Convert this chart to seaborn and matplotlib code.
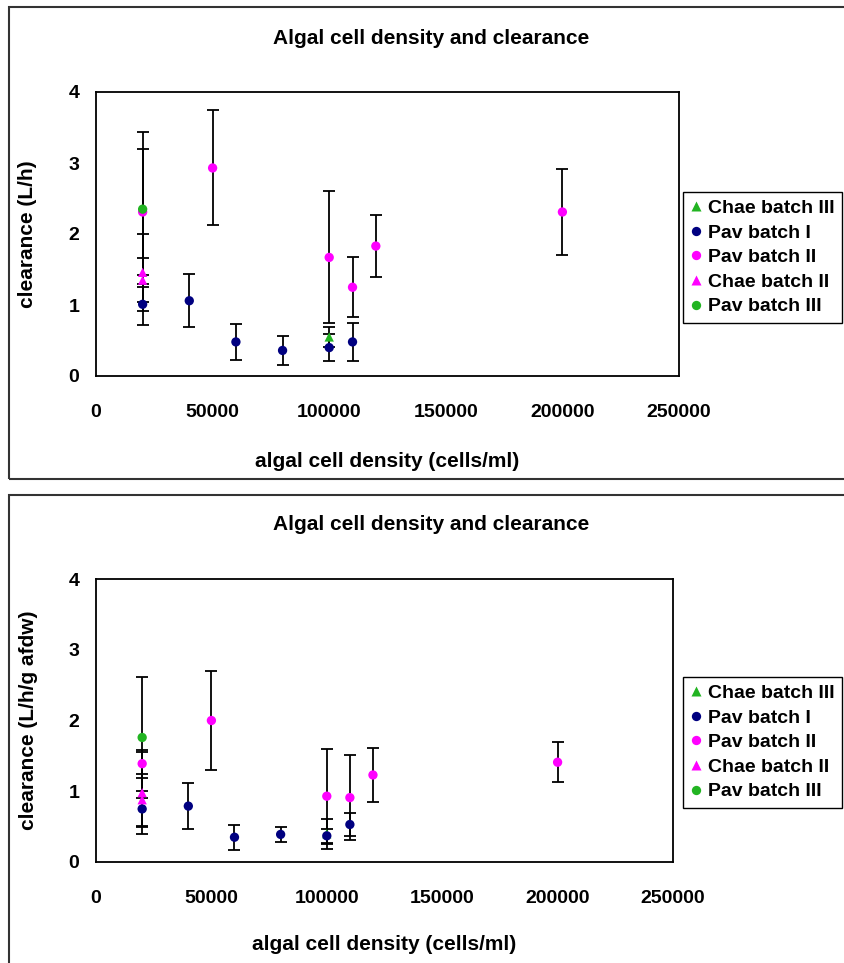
import pandas as pd
import numpy as np
import seaborn as sns
import matplotlib.pyplot as plt
from matplotlib.patches import Rectangle

# cell densities (cells/ml) for each series
pav1_x = [20000, 40000, 60000, 80000, 100000, 110000]
pav2_x = [20000, 50000, 100000, 110000, 120000, 200000]
pav3_x = [20000]
chae2_x = [20000, 20000]
chae3_x = [100000]

# top panel: clearance (L/h) and error
pav1_top = [1.01, 1.06, 0.48, 0.36, 0.40, 0.48]
pav1_top_err = [0.29, 0.37, 0.25, 0.21, 0.19, 0.27]
pav2_top = [2.31, 2.93, 1.67, 1.25, 1.83, 2.31]
pav2_top_err = [0.89, 0.81, 0.93, 0.42, 0.44, 0.60]
pav3_top = [2.35]
pav3_top_err = [1.09]
chae2_top = [1.46, 1.35]
chae2_top_err = [0.54, 0.31]
chae3_top = [0.55]
chae3_top_err = [0.14]

# bottom panel: clearance (L/h/g afdw) and error
pav1_bot = [0.75, 0.79, 0.35, 0.39, 0.37, 0.53]
pav1_bot_err = [0.25, 0.33, 0.18, 0.11, 0.10, 0.16]
pav2_bot = [1.39, 2.00, 0.93, 0.91, 1.23, 1.41]
pav2_bot_err = [0.20, 0.70, 0.67, 0.60, 0.38, 0.28]
pav3_bot = [1.76]
pav3_bot_err = [0.85]
chae2_bot = [0.98, 0.88]
chae2_bot_err = [0.58, 0.37]
chae3_bot = [0.40]
chae3_bot_err = [0.21]

series_order = ["Chae batch III", "Pav batch I", "Pav batch II", "Chae batch II", "Pav batch III"]
x_ticks = [0, 50000, 100000, 150000, 200000, 250000]
y_ticks = [0, 1, 2, 3, 4]

palette = {"Chae batch III": "#22b422", "Pav batch I": "#000080", "Pav batch II": "#ff00ff",
           "Chae batch II": "#ff00ff", "Pav batch III": "#22b422"}
markers = {"Chae batch III": "^", "Pav batch I": "o", "Pav batch II": "o",
           "Chae batch II": "^", "Pav batch III": "o"}

W, H = 845, 963


def make_frame(x, yv, err):
    rows = []
    for name in series_order:
        for xi, yi, ei in zip(x[name], yv[name], err[name]):
            rows.append({"density": xi, "clearance": yi, "err": ei, "series": name})
    return pd.DataFrame(rows)


def draw_panel(ax, df, ylabel, legend_top, xlab_y):
    # error bars first so the markers sit on top
    for name in series_order:
        sub = df[df.series == name]
        ax.errorbar(sub.density, sub.clearance, yerr=sub.err, fmt="none",
                    ecolor="black", elinewidth=1.3, capsize=4, capthick=1.3, zorder=1)
    sns.scatterplot(data=df, x="density", y="clearance", hue="series", style="series",
                    hue_order=series_order, style_order=series_order,
                    palette=palette, markers=markers, s=45, edgecolor="none",
                    zorder=3, ax=ax)
    ax.set_xlim(0, 250000)
    ax.set_ylim(0, 4)
    ax.set_xticks(x_ticks)
    ax.set_xticklabels([str(t) for t in x_ticks])
    ax.set_yticks(y_ticks)
    ax.tick_params(axis="x", direction="out", length=5, width=1, pad=15, labelsize=14,
                   colors="black")
    ax.tick_params(axis="y", direction="out", length=5, width=1, pad=7, labelsize=14,
                   colors="black")
    for lab in ax.get_xticklabels() + ax.get_yticklabels():
        lab.set_fontweight("bold")
    for sp in ax.spines.values():
        sp.set_color("black")
        sp.set_linewidth(1.3)
    ax.set_xlabel("algal cell density (cells/ml)", fontsize=15, fontweight="bold", color="black")
    ax.set_ylabel(ylabel, fontsize=15, fontweight="bold", color="black")
    ax.xaxis.set_label_coords(0.5, xlab_y)
    ax.yaxis.set_label_coords(-0.101, 0.5)
    handles, labels = ax.get_legend_handles_labels()
    leg = ax.legend(handles, labels, loc="upper left",
                    bbox_to_anchor=(683 / W, 1 - legend_top / H), bbox_transform=fig.transFigure,
                    fancybox=False, frameon=True, edgecolor="black", framealpha=1,
                    handlelength=0.6, handletextpad=0.3, labelspacing=0.36,
                    borderpad=0.38, borderaxespad=0, markerscale=1.0,
                    prop={"size": 14, "weight": "bold"})
    leg.get_frame().set_linewidth(1.0)
    for t in leg.get_texts():
        t.set_color("black")


sns.set_theme(style="white")
plt.rcParams["font.family"] = ["Liberation Sans", "DejaVu Sans"]
plt.rcParams["text.color"] = "black"

fig = plt.figure(figsize=(W / 100, H / 100), dpi=100)

# outer frames around each chart
fig.add_artist(Rectangle((9 / W, 1 - 479 / H), 1, (479 - 7) / H, transform=fig.transFigure,
                         fill=False, edgecolor="#333333", linewidth=1.5))
fig.add_artist(Rectangle((9 / W, -0.1), 1, 0.1 + (963 - 495) / H, transform=fig.transFigure,
                         fill=False, edgecolor="#333333", linewidth=1.5))

xs = {"Chae batch III": chae3_x, "Pav batch I": pav1_x, "Pav batch II": pav2_x,
      "Chae batch II": chae2_x, "Pav batch III": pav3_x}

top_df = make_frame(xs,
                    {"Chae batch III": chae3_top, "Pav batch I": pav1_top, "Pav batch II": pav2_top,
                     "Chae batch II": chae2_top, "Pav batch III": pav3_top},
                    {"Chae batch III": chae3_top_err, "Pav batch I": pav1_top_err,
                     "Pav batch II": pav2_top_err, "Chae batch II": chae2_top_err,
                     "Pav batch III": pav3_top_err})
bot_df = make_frame(xs,
                    {"Chae batch III": chae3_bot, "Pav batch I": pav1_bot, "Pav batch II": pav2_bot,
                     "Chae batch II": chae2_bot, "Pav batch III": pav3_bot},
                    {"Chae batch III": chae3_bot_err, "Pav batch I": pav1_bot_err,
                     "Pav batch II": pav2_bot_err, "Chae batch II": chae2_bot_err,
                     "Pav batch III": pav3_bot_err})

ax1 = fig.add_axes([96 / W, 1 - 376 / H, (679 - 96) / W, (376 - 92) / H])
draw_panel(ax1, top_df, "clearance (L/h)", 192, -0.266)
fig.text(431 / W, 1 - 38 / H, "Algal cell density and clearance", ha="center", va="center",
         fontsize=15, fontweight="bold", color="black")

ax2 = fig.add_axes([96 / W, 1 - 862 / H, (673 - 96) / W, (862 - 579) / H])
draw_panel(ax2, bot_df, "clearance (L/h/g afdw)", 677, -0.257)
fig.text(431 / W, 1 - 525 / H, "Algal cell density and clearance", ha="center", va="center",
         fontsize=15, fontweight="bold", color="black")

fig.savefig("out.png", dpi=100)
